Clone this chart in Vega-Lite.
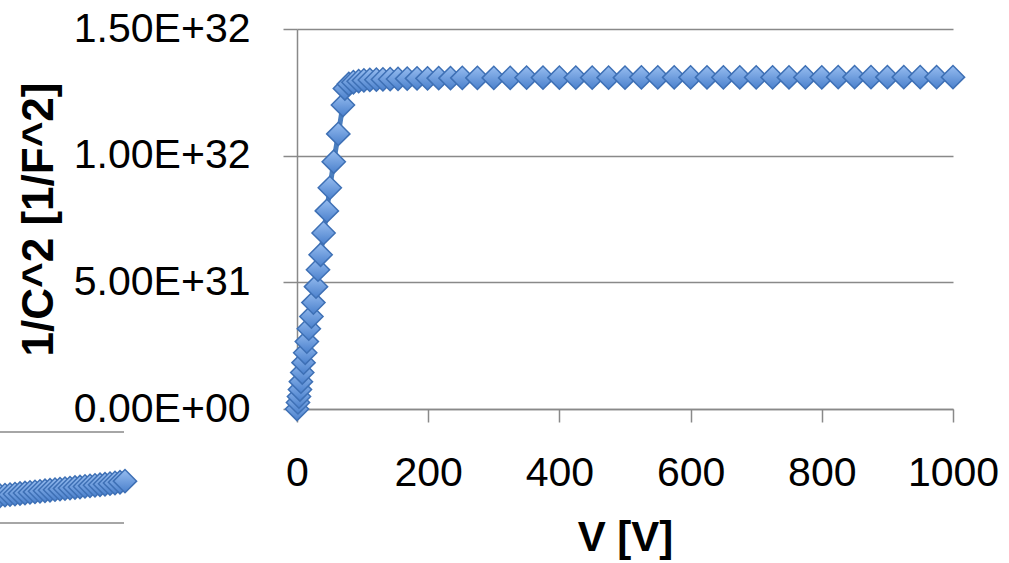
{
  "$schema": "https://vega.github.io/schema/vega-lite/v6.json",
  "autosize": "none",
  "width": 656,
  "height": 380,
  "padding": {"left": 297, "top": 29, "right": 56, "bottom": 154},
  "background": "white",
  "config": {
    "view": {"stroke": null},
    "axis": {
      "labelFont": "Liberation Sans",
      "labelFontSize": 41,
      "labelColor": "#000000",
      "titleFont": "Liberation Sans",
      "titleFontSize": 43,
      "titleFontWeight": "bold",
      "titleColor": "#000000",
      "domainColor": "#898989",
      "domainWidth": 1.5,
      "tickColor": "#898989",
      "tickWidth": 1.5,
      "gridColor": "#898989",
      "gridWidth": 1.5,
      "gridOpacity": 1
    }
  },
  "datasets": {
    "main": [
      {"V": 0, "C": 0.0},
      {"V": 1.5, "C": 0.026e32},
      {"V": 3, "C": 0.049e32},
      {"V": 4.5, "C": 0.077e32},
      {"V": 6, "C": 0.108e32},
      {"V": 8, "C": 0.144e32},
      {"V": 10, "C": 0.183e32},
      {"V": 12.5, "C": 0.222e32},
      {"V": 15, "C": 0.266e32},
      {"V": 18, "C": 0.317e32},
      {"V": 22, "C": 0.365e32},
      {"V": 25, "C": 0.420e32},
      {"V": 29, "C": 0.483e32},
      {"V": 32, "C": 0.550e32},
      {"V": 36, "C": 0.609e32},
      {"V": 40.5, "C": 0.695e32},
      {"V": 45.5, "C": 0.782e32},
      {"V": 50, "C": 0.873e32},
      {"V": 56, "C": 0.976e32},
      {"V": 63, "C": 1.086e32},
      {"V": 70, "C": 1.200e32},
      {"V": 73, "C": 1.265e32},
      {"V": 79, "C": 1.283e32},
      {"V": 86, "C": 1.290e32},
      {"V": 94, "C": 1.294e32},
      {"V": 102, "C": 1.297e32},
      {"V": 111, "C": 1.299e32},
      {"V": 121, "C": 1.300e32},
      {"V": 131, "C": 1.301e32},
      {"V": 142, "C": 1.302e32},
      {"V": 154, "C": 1.303e32},
      {"V": 168, "C": 1.304e32},
      {"V": 183, "C": 1.305e32},
      {"V": 199, "C": 1.305e32},
      {"V": 216, "C": 1.306e32},
      {"V": 234, "C": 1.306e32},
      {"V": 252, "C": 1.307e32},
      {"V": 275, "C": 1.307e32},
      {"V": 300, "C": 1.307e32},
      {"V": 325, "C": 1.307e32},
      {"V": 350, "C": 1.308e32},
      {"V": 375, "C": 1.308e32},
      {"V": 400, "C": 1.308e32},
      {"V": 425, "C": 1.308e32},
      {"V": 450, "C": 1.308e32},
      {"V": 475, "C": 1.308e32},
      {"V": 500, "C": 1.308e32},
      {"V": 525, "C": 1.309e32},
      {"V": 550, "C": 1.309e32},
      {"V": 575, "C": 1.309e32},
      {"V": 600, "C": 1.309e32},
      {"V": 625, "C": 1.309e32},
      {"V": 650, "C": 1.309e32},
      {"V": 675, "C": 1.309e32},
      {"V": 700, "C": 1.309e32},
      {"V": 725, "C": 1.309e32},
      {"V": 750, "C": 1.309e32},
      {"V": 775, "C": 1.309e32},
      {"V": 800, "C": 1.309e32},
      {"V": 825, "C": 1.310e32},
      {"V": 850, "C": 1.310e32},
      {"V": 875, "C": 1.310e32},
      {"V": 900, "C": 1.310e32},
      {"V": 925, "C": 1.310e32},
      {"V": 950, "C": 1.310e32},
      {"V": 975, "C": 1.310e32},
      {"V": 1000, "C": 1.310e32}
    ],
    "frag": [
      {"fx": 0, "fy": 0.300}, {"fx": 1, "fy": 0.306}, {"fx": 2, "fy": 0.312},
      {"fx": 3, "fy": 0.318}, {"fx": 4, "fy": 0.324}, {"fx": 5, "fy": 0.330},
      {"fx": 6, "fy": 0.336}, {"fx": 7, "fy": 0.342}, {"fx": 8, "fy": 0.348},
      {"fx": 9, "fy": 0.354}, {"fx": 10, "fy": 0.360}, {"fx": 11, "fy": 0.366},
      {"fx": 12, "fy": 0.372}, {"fx": 13, "fy": 0.378}, {"fx": 14, "fy": 0.384},
      {"fx": 15, "fy": 0.390}, {"fx": 16, "fy": 0.396}, {"fx": 17, "fy": 0.402},
      {"fx": 18, "fy": 0.408}, {"fx": 19, "fy": 0.414}, {"fx": 20, "fy": 0.420},
      {"fx": 21, "fy": 0.426}, {"fx": 22, "fy": 0.432}, {"fx": 23, "fy": 0.440},
      {"fx": 24, "fy": 0.448}, {"fx": 25, "fy": 0.460}
    ],
    "fraggrid": [
      {"gx": -2, "gx2": 24.8, "gy": 0},
      {"gx": -2, "gx2": 24.8, "gy": 1}
    ]
  },
  "layer": [
    {
      "data": {"name": "main"},
      "encoding": {
        "x": {
          "field": "V", "type": "quantitative",
          "scale": {"domain": [0, 1000], "nice": false, "zero": false},
          "axis": {
            "title": "V [V]",
            "values": [0, 200, 400, 600, 800, 1000],
            "format": "d",
            "grid": false,
            "tickSize": 13,
            "labelPadding": 63,
            "labelBaseline": "alphabetic",
            "labelFlush": false,
            "labelOverlap": false,
            "titleFontSize": 42,
            "titleX": 328,
            "titleY": 128,
            "titleBaseline": "middle",
            "titleAlign": "center"
          }
        },
        "y": {
          "field": "C", "type": "quantitative",
          "scale": {"domain": [0, 1.5e32], "nice": false},
          "axis": {
            "title": "1/C^2 [1/F^2]",
            "values": [0, 5e31, 1e32, 1.5e32],
            "labelExpr": "datum.value == 0 ? '0.00E+00' : upper(format(datum.value, '.2e'))",
            "grid": true,
            "tickSize": 14,
            "labelPadding": 33,
            "labelBaseline": "middle",
            "labelFlush": false,
            "labelOverlap": false,
            "titleFontSize": 44,
            "titleAngle": 270,
            "titleX": -258,
            "titleY": 190,
            "titleBaseline": "middle",
            "titleAlign": "center"
          }
        }
      },
      "layer": [
        {"mark": {"type": "line", "color": "#4a7ebf", "strokeWidth": 5}},
        {"mark": {
          "type": "point", "shape": "diamond", "size": 540, "filled": true, "opacity": 1,
          "fill": {"gradient": "linear", "x1": 0, "y1": 0, "x2": 0, "y2": 1,
                   "stops": [{"offset": 0, "color": "#97bdf0"}, {"offset": 1, "color": "#4a80cc"}]},
          "stroke": "#3e70b5", "strokeWidth": 1.5
        }}
      ]
    },
    {
      "layer": [
        {
          "data": {"name": "fraggrid"},
          "mark": {"type": "rule", "color": "#898989", "strokeWidth": 1.5},
          "encoding": {
            "x": {"field": "gx", "type": "quantitative", "scale": {"domain": [0, 25], "range": [-297, -172]}, "axis": null},
            "x2": {"field": "gx2"},
            "y": {"field": "gy", "type": "quantitative", "scale": {"domain": [0, 1], "range": [494, 403]}, "axis": null}
          }
        },
        {
          "data": {"name": "frag"},
          "mark": {"type": "line", "color": "#4a7ebf", "strokeWidth": 5},
          "encoding": {
            "x": {"field": "fx", "type": "quantitative", "scale": {"domain": [0, 25], "range": [-297, -172]}, "axis": null},
            "y": {"field": "fy", "type": "quantitative", "scale": {"domain": [0, 1], "range": [494, 403]}, "axis": null}
          }
        },
        {
          "data": {"name": "frag"},
          "mark": {
            "type": "point", "shape": "diamond", "size": 540, "filled": true, "opacity": 1,
            "fill": {"gradient": "linear", "x1": 0, "y1": 0, "x2": 0, "y2": 1,
                     "stops": [{"offset": 0, "color": "#97bdf0"}, {"offset": 1, "color": "#4a80cc"}]},
            "stroke": "#3e70b5", "strokeWidth": 1.5
          },
          "encoding": {
            "x": {"field": "fx", "type": "quantitative", "scale": {"domain": [0, 25], "range": [-297, -172]}, "axis": null},
            "y": {"field": "fy", "type": "quantitative", "scale": {"domain": [0, 1], "range": [494, 403]}, "axis": null}
          }
        }
      ]
    }
  ],
  "resolve": {"scale": {"x": "independent", "y": "independent"}}
}
